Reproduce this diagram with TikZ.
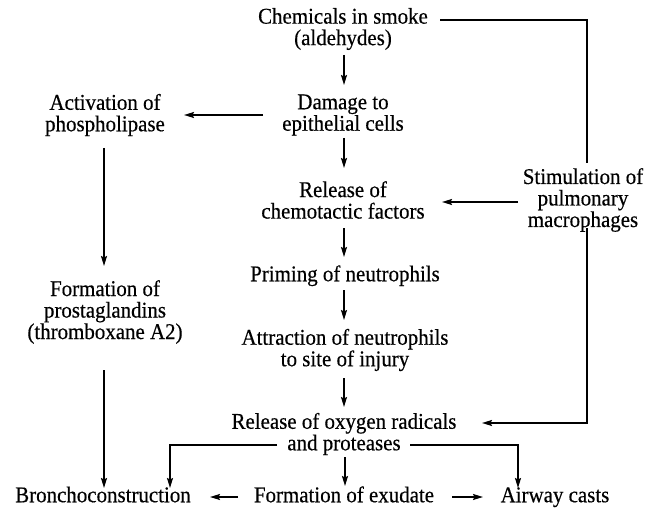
\documentclass[tikz,border=0pt]{standalone}
\usepackage{fontspec}
\setmainfont[FakeStretch=0.93,FakeBold=0.4]{Liberation Serif}
\usetikzlibrary{arrows.meta}
\begin{document}
\begin{tikzpicture}[x=1pt,y=-1pt,
  lbl/.style={font=\fontsize{22.5}{21.5}\selectfont, align=center, inner sep=0pt},
  one/.style={lbl, text height=15.5pt, text depth=5pt},
  ln/.style={line width=1.6pt, line join=miter},
  arr/.style={ln, -{Stealth[length=10pt,width=6pt,inset=1.5pt]}}]
\useasboundingbox[fill=white] (0,0) rectangle (649,511);
% nodes
\node[lbl] (chem) at (343,29) {Chemicals in smoke\\(aldehydes)};
\node[lbl] (damage) at (343,115) {Damage to\\epithelial cells};
\node[lbl] (activ) at (105,115) {Activation of\\phospholipase};
\node[lbl] (release) at (343,200) {Release of\\chemotactic factors};
\node[lbl] (stim) at (583,200) {Stimulation of\\pulmonary\\macrophages};
\node[one] (priming) at (345,276) {Priming of neutrophils};
\node[lbl] (formation) at (105,312) {Formation of\\prostaglandins\\(thromboxane A2)};
\node[lbl] (attraction) at (345,350) {Attraction of neutrophils\\to site of injury};
\node[lbl] (oxygen) at (344,434) {Release of oxygen radicals\\and proteases};
\node[one] (broncho) at (103,497) {Bronchoconstruction};
\node[one] (exudate) at (344,497) {Formation of exudate};
\node[one] (casts) at (555,497) {Airway casts};
% central chain
\draw[arr] ([shift={(1,26)}]chem.center) -- ([shift={(1,-30)}]damage.center);
\draw[arr] ([shift={(1,23)}]damage.center) -- ([shift={(1,-32)}]release.center);
\draw[arr] ([shift={(1,28)}]release.center) -- ([shift={(-1,-19)}]priming.center);
\draw[arr] ([shift={(-1,14)}]priming.center) -- ([shift={(-1,-30)}]attraction.center);
\draw[arr] ([shift={(-1,28)}]attraction.center) -- ([shift={(0,-27)}]oxygen.center);
\draw[arr] ([shift={(1,23)}]oxygen.center) -- ([shift={(1,-11)}]exudate.center);
% left column
\draw[arr] ([shift={(-80,0)}]damage.center) -- ([shift={(79,0)}]activ.center);
\draw[arr] ([shift={(-1,33)}]activ.center) -- ([shift={(-1,-46)}]formation.center);
\draw[arr] ([shift={(-1,58)}]formation.center) -- ([shift={(1,-9)}]broncho.center);
% right side
\draw[ln] ([shift={(97,-9)}]chem.center) -| ([shift={(4,-37)}]stim.center);
\draw[arr] ([shift={(-65,2)}]stim.center) -- ([shift={(99,2)}]release.center);
\draw[arr] ([shift={(4,28)}]stim.center) |- ([shift={(138,-11)}]oxygen.center);
% branches to bottom row
\draw[arr] ([shift={(-67,11)}]oxygen.center) -| ([shift={(67,-9)}]broncho.center);
\draw[arr] ([shift={(66,11)}]oxygen.center) -| ([shift={(-37,-9)}]casts.center);
\draw[arr] ([shift={(-106,0)}]exudate.center) -- ([shift={(107,0)}]broncho.center);
\draw[arr] ([shift={(108,0)}]exudate.center) -- ([shift={(-72,0)}]casts.center);
\end{tikzpicture}
\end{document}
